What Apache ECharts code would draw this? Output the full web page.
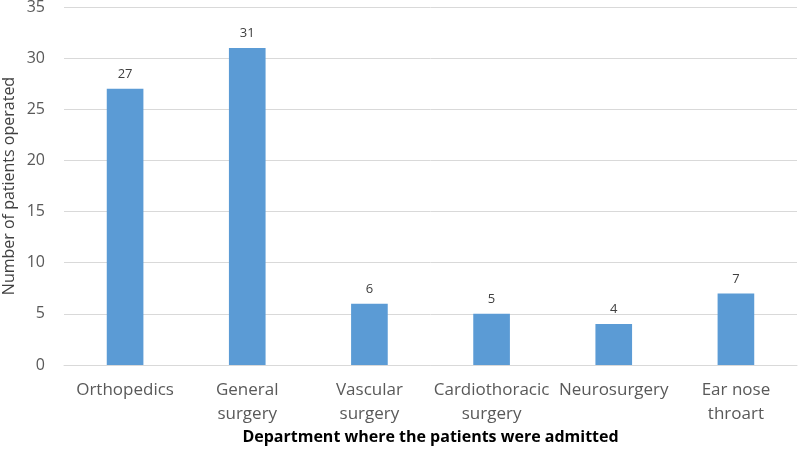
<!DOCTYPE html>
<html><head><meta charset="utf-8">
<script src="https://cdn.jsdelivr.net/npm/echarts@6/dist/echarts.min.js"></script>
<style>html,body{margin:0;padding:0;background:#fff}#c{width:798px;height:452px}</style>
</head><body><div id="c"></div>
<script>
const categories = ['Orthopedics', 'General\nsurgery', 'Vascular\nsurgery', 'Cardiothoracic\nsurgery', 'Neurosurgery', 'Ear nose\nthroart'];
const patients = [27, 31, 6, 5, 4, 7];
const yTicks = [0, 5, 10, 15, 20, 25, 30, 35];
const chart = echarts.init(document.getElementById('c'));
chart.setOption({
  animation: false,
  grid: {left: 64, right: 1, top: 7, bottom: 87, outerBoundsMode: 'none', containLabel: false},
  xAxis: {
    type: 'category', data: categories,
    name: 'Department where the patients were admitted',
    nameLocation: 'middle', nameGap: 64, nameMoveOverlap: false,
    nameTextStyle: {fontFamily: 'Open Sans', fontSize: 16, fontWeight: 'bold', color: '#000'},
    axisLine: {lineStyle: {color: '#d9d9d9'}},
    axisTick: {show: false},
    axisLabel: {fontFamily: 'Open Sans', fontSize: 17, color: '#595959', lineHeight: 24, margin: 13, interval: 0}
  },
  yAxis: {
    type: 'value', min: 0, max: 35, interval: 5,
    name: 'Number of patients operated',
    nameLocation: 'middle', nameGap: 47, nameMoveOverlap: false,
    nameTextStyle: {fontFamily: 'Open Sans', fontSize: 16, color: '#404040'},
    axisLabel: {fontFamily: 'Open Sans', fontSize: 16, color: '#595959', margin: 19},
    splitLine: {lineStyle: {color: '#d9d9d9'}}
  },
  series: [{
    type: 'bar', data: patients, barWidth: '30%',
    itemStyle: {color: '#5b9bd5'},
    label: {show: true, position: 'top', distance: 8, fontFamily: 'Open Sans', fontSize: 13, color: '#404040'}
  }]
});
</script></body></html>
